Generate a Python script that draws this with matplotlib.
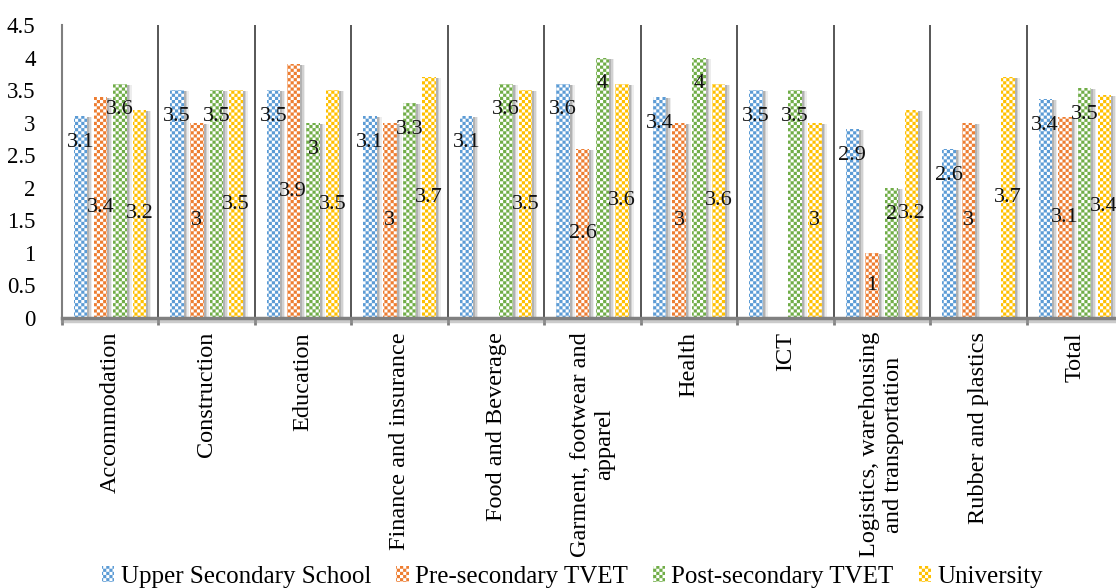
import numpy as np
import matplotlib
matplotlib.use("Agg")
import matplotlib.pyplot as plt
import matplotlib.hatch as mhatch
import matplotlib.transforms as mtrans
import matplotlib.patheffects as pe
from matplotlib.path import Path
from matplotlib.patches import Patch

categories = ["Accommodation", "Construction", "Education", "Finance and insurance",
              "Food and Beverage", "Garment, footwear and\napparel", "Health", "ICT",
              "Logistics, warehousing\nand transportation", "Rubber and plastics", "Total"]
series_names = ["Upper Secondary School", "Pre-secondary TVET", "Post-secondary TVET", "University"]
upper_secondary = [3.1, 3.5, 3.5, 3.1, 3.1, 3.6, 3.4, 3.5, 2.9, 2.6, 3.36]
pre_secondary_tvet = [3.4, 3.0, 3.9, 3.0, np.nan, 2.6, 3.0, np.nan, 1.0, 3.0, 3.08]
post_secondary_tvet = [3.6, 3.5, 3.0, 3.3, 3.6, 4.0, 4.0, 3.5, 2.0, np.nan, 3.53]
university = [3.2, 3.5, 3.5, 3.7, 3.5, 3.6, 3.6, 3.0, 3.2, 3.7, 3.43]
yticks = [0, 0.5, 1, 1.5, 2, 2.5, 3, 3.5, 4, 4.5]
ytick_labels = ["0", "0.5", "1", "1.5", "2", "2.5", "3", "3.5", "4", "4.5"]

series = [upper_secondary, pre_secondary_tvet, post_secondary_tvet, university]
colors = ["#5B9BD5", "#ED7D31", "#70AD47", "#FFC000"]
label_inside_end = [True, False, True, False]


# --- checkerboard hatch (replaces the large-circle 'O' hatch) ---
class CheckerHatch(mhatch.HatchPatternBase):
    cells = 32

    def __init__(self, hatch, density):
        self.on = hatch.count('O') > 0
        n = self.cells
        self.num_squares = (n * n) // 2 if self.on else 0
        self.num_vertices = self.num_squares * 5

    def set_vertices_and_codes(self, vertices, codes):
        n = self.cells
        s = 1.0 / n
        k = 0
        for r in range(n):
            for c in range(n):
                if (r + c) % 2:
                    continue
                x0, y0 = c * s, r * s
                vertices[k:k + 5] = [(x0, y0), (x0 + s, y0), (x0 + s, y0 + s), (x0, y0 + s), (x0, y0)]
                codes[k:k + 5] = [Path.MOVETO, Path.LINETO, Path.LINETO, Path.LINETO, Path.CLOSEPOLY]
                k += 5


mhatch._hatch_types = [h for h in mhatch._hatch_types if h is not mhatch.LargeCircles] + [CheckerHatch]

plt.rcParams['font.family'] = ['Liberation Serif', 'DejaVu Serif']
plt.rcParams['hatch.linewidth'] = 0.05

fig = plt.figure(figsize=(11.16, 5.88), dpi=100)
ax = fig.add_axes([62/1116, 1 - 318/588, (1123 - 62)/1116, (318 - 25)/588])

x = np.arange(len(categories))
step = 0.204
width = 0.14

for i, (vals, col) in enumerate(zip(series, colors)):
    vals = np.array(vals, dtype=float)
    xs = x + (i - 1.5) * step
    # soft shadow
    for dx, a in [(2.0, 0.30), (3.5, 0.22), (5.0, 0.12)]:
        sh = ax.bar(xs, vals, width=width, color='#6e6e6e', alpha=a, linewidth=0, zorder=2)
        off = mtrans.ScaledTranslation(dx / 100, -1.0 / 100, fig.dpi_scale_trans)
        for b in sh:
            b.set_transform(ax.transData + off)
    ax.bar(xs, vals, width=width, color='white', edgecolor=col, linewidth=0,
           hatch='O', zorder=3)
    for xi, v in zip(xs, vals):
        if np.isnan(v):
            continue
        txt = f"{round(v, 1):g}"
        if label_inside_end[i]:
            ax.annotate(txt, xy=(xi, v), xytext=(0, -19), textcoords='offset points',
                        ha='center', va='center', fontsize=16, color='#111111', zorder=5)
        else:
            ax.annotate(txt, xy=(xi, v / 2), ha='center', va='center',
                        fontsize=16, color='#111111', zorder=5)

ax.set_xlim(-0.5, len(categories) - 0.5)
ax.set_ylim(0, 4.5)
ax.set_yticks(yticks)
ax.set_yticklabels(ytick_labels, fontsize=16.5)
ax.tick_params(axis='y', length=0, pad=19)

ax.set_xticks(x)
ax.set_xticklabels(categories, rotation=90, fontsize=17.5, ha='center', va='top',
                   multialignment='center')
ax.tick_params(axis='x', which='major', length=0, pad=10)
ax.set_xticks(np.arange(-0.5, len(categories), 1), minor=True)
ax.tick_params(axis='x', which='minor', length=5, width=2, color='#7f7f7f', direction='out')
ax.grid(which='minor', axis='x', color='#3a3a3a', linewidth=1.2, zorder=1)

for s in ['top', 'right']:
    ax.spines[s].set_visible(False)
ax.spines['left'].set_color('#7f7f7f')
ax.spines['left'].set_linewidth(1.5)
ax.spines['bottom'].set_color('#808080')
ax.spines['bottom'].set_linewidth(2.5)
ax.spines['bottom'].set_zorder(4)
ax.spines['bottom'].set_path_effects([pe.SimpleLineShadow(offset=(0, -2), shadow_color='#999999', alpha=0.5), pe.Normal()])

handles = [Patch(facecolor='white', edgecolor=c, linewidth=0, hatch='O') for c in colors]
fig.legend(handles, series_names, loc='center', bbox_to_anchor=(0.513, 1 - 577/588),
           ncol=4, frameon=False, fontsize=18, handlelength=0.5, handleheight=0.6,
           handletextpad=0.25, columnspacing=1.0)

fig.savefig("out.png", dpi=100)
